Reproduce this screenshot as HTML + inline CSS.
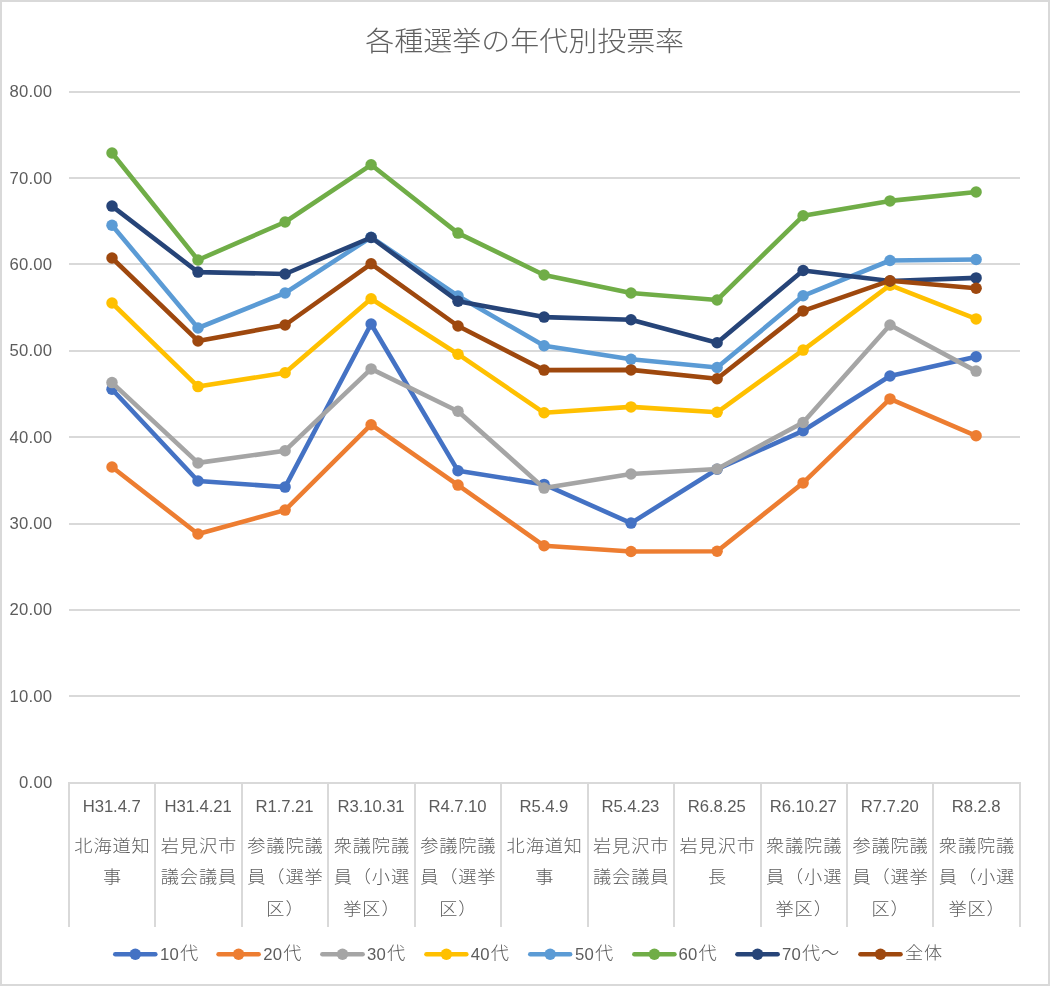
<!DOCTYPE html>
<html lang="ja">
<head>
<meta charset="utf-8">
<title>各種選挙の年代別投票率</title>
<style>
html,body{margin:0;padding:0;background:#fff;}
body{width:1050px;height:986px;overflow:hidden;}
svg{display:block;}
text{font-family:"Liberation Sans","Noto Sans CJK JP",sans-serif;fill:#5c5c5c;}
.t{fill:#606060;}
.l{font-size:16.7px;letter-spacing:0.22px;}
.d{font-size:16.7px;letter-spacing:-0.08px;}
.j{font-size:18.2px;font-weight:300;letter-spacing:0.87px;}
.t{font-size:29.0px;font-weight:300;}
</style>
</head>
<body>
<svg width="1050" height="986" viewBox="0 0 1050 986">
<rect x="0" y="0" width="1050" height="986" fill="#ffffff"/>
<rect x="1.0" y="1.0" width="1048" height="984" fill="none" stroke="#D9D9D9" stroke-width="2"/>
<text class="t" transform="translate(524.7 50.5) scale(1 0.94)" text-anchor="middle">各種選挙の年代別投票率</text>
<g fill="#D9D9D9" shape-rendering="crispEdges">
<rect x="68" y="782" width="953" height="2"/>
<rect x="69" y="695" width="951" height="2"/>
<rect x="69" y="609" width="951" height="2"/>
<rect x="69" y="523" width="951" height="2"/>
<rect x="69" y="436" width="951" height="2"/>
<rect x="69" y="350" width="951" height="2"/>
<rect x="69" y="263" width="951" height="2"/>
<rect x="69" y="177" width="951" height="2"/>
<rect x="69" y="91" width="951" height="2"/>
<rect x="68" y="782" width="2" height="145"/>
<rect x="154" y="782" width="2" height="145"/>
<rect x="241" y="782" width="2" height="145"/>
<rect x="327" y="782" width="2" height="145"/>
<rect x="414" y="782" width="2" height="145"/>
<rect x="500" y="782" width="2" height="145"/>
<rect x="587" y="782" width="2" height="145"/>
<rect x="673" y="782" width="2" height="145"/>
<rect x="760" y="782" width="2" height="145"/>
<rect x="846" y="782" width="2" height="145"/>
<rect x="932" y="782" width="2" height="145"/>
<rect x="1019" y="782" width="2" height="145"/>
</g>
<g class="l" text-anchor="end">
<text x="52.4" y="788.00">0.00</text>
<text x="52.4" y="702.00">10.00</text>
<text x="52.4" y="615.00">20.00</text>
<text x="52.4" y="529.00">30.00</text>
<text x="52.4" y="443.00">40.00</text>
<text x="52.4" y="356.00">50.00</text>
<text x="52.4" y="270.00">60.00</text>
<text x="52.4" y="184.00">70.00</text>
<text x="52.4" y="97.00">80.00</text>
</g>
<g text-anchor="middle">
<text class="d" x="111.67" y="812.0">H31.4.7</text>
<text class="j" transform="translate(112.49 851.60) scale(1 0.95)">北海道知</text>
<text class="j" transform="translate(112.49 882.80) scale(1 0.95)">事</text>
<text class="d" x="198.12" y="812.0">H31.4.21</text>
<text class="j" transform="translate(198.94 851.60) scale(1 0.95)">岩見沢市</text>
<text class="j" transform="translate(198.94 882.80) scale(1 0.95)">議会議員</text>
<text class="d" x="284.56" y="812.0">R1.7.21</text>
<text class="j" transform="translate(285.39 851.60) scale(1 0.95)">参議院議</text>
<text class="j" transform="translate(285.39 882.80) scale(1 0.95)">員（選挙</text>
<text class="j" transform="translate(285.39 914.90) scale(1 0.95)">区）</text>
<text class="d" x="371.01" y="812.0">R3.10.31</text>
<text class="j" transform="translate(371.84 851.60) scale(1 0.95)">衆議院議</text>
<text class="j" transform="translate(371.84 882.80) scale(1 0.95)">員（小選</text>
<text class="j" transform="translate(371.84 914.90) scale(1 0.95)">挙区）</text>
<text class="d" x="457.47" y="812.0">R4.7.10</text>
<text class="j" transform="translate(458.29 851.60) scale(1 0.95)">参議院議</text>
<text class="j" transform="translate(458.29 882.80) scale(1 0.95)">員（選挙</text>
<text class="j" transform="translate(458.29 914.90) scale(1 0.95)">区）</text>
<text class="d" x="543.92" y="812.0">R5.4.9</text>
<text class="j" transform="translate(544.74 851.60) scale(1 0.95)">北海道知</text>
<text class="j" transform="translate(544.74 882.80) scale(1 0.95)">事</text>
<text class="d" x="630.37" y="812.0">R5.4.23</text>
<text class="j" transform="translate(631.19 851.60) scale(1 0.95)">岩見沢市</text>
<text class="j" transform="translate(631.19 882.80) scale(1 0.95)">議会議員</text>
<text class="d" x="716.82" y="812.0">R6.8.25</text>
<text class="j" transform="translate(717.64 851.60) scale(1 0.95)">岩見沢市</text>
<text class="j" transform="translate(717.64 882.80) scale(1 0.95)">長</text>
<text class="d" x="803.27" y="812.0">R6.10.27</text>
<text class="j" transform="translate(804.09 851.60) scale(1 0.95)">衆議院議</text>
<text class="j" transform="translate(804.09 882.80) scale(1 0.95)">員（小選</text>
<text class="j" transform="translate(804.09 914.90) scale(1 0.95)">挙区）</text>
<text class="d" x="889.72" y="812.0">R7.7.20</text>
<text class="j" transform="translate(890.54 851.60) scale(1 0.95)">参議院議</text>
<text class="j" transform="translate(890.54 882.80) scale(1 0.95)">員（選挙</text>
<text class="j" transform="translate(890.54 914.90) scale(1 0.95)">区）</text>
<text class="d" x="976.17" y="812.0">R8.2.8</text>
<text class="j" transform="translate(976.99 851.60) scale(1 0.95)">衆議院議</text>
<text class="j" transform="translate(976.99 882.80) scale(1 0.95)">員（小選</text>
<text class="j" transform="translate(976.99 914.90) scale(1 0.95)">挙区）</text>
</g>
<g stroke="#4472C4" fill="#4472C4">
<polyline points="112.00,389.20 198.00,481.00 285.10,487.10 371.10,324.00 458.00,470.80 544.10,484.40 631.00,523.10 717.10,469.20 803.10,430.80 890.00,376.00 976.10,356.80" fill="none" stroke-width="4.6" stroke-linecap="round" stroke-linejoin="round"/>
<circle cx="112.00" cy="389.20" r="5.75" stroke="none"/>
<circle cx="198.00" cy="481.00" r="5.75" stroke="none"/>
<circle cx="285.10" cy="487.10" r="5.75" stroke="none"/>
<circle cx="371.10" cy="324.00" r="5.75" stroke="none"/>
<circle cx="458.00" cy="470.80" r="5.75" stroke="none"/>
<circle cx="544.10" cy="484.40" r="5.75" stroke="none"/>
<circle cx="631.00" cy="523.10" r="5.75" stroke="none"/>
<circle cx="717.10" cy="469.20" r="5.75" stroke="none"/>
<circle cx="803.10" cy="430.80" r="5.75" stroke="none"/>
<circle cx="890.00" cy="376.00" r="5.75" stroke="none"/>
<circle cx="976.10" cy="356.80" r="5.75" stroke="none"/>
</g>
<g stroke="#ED7D31" fill="#ED7D31">
<polyline points="112.00,467.00 198.00,534.00 285.10,510.10 371.10,424.70 458.00,485.10 544.10,545.80 631.00,551.50 717.10,551.20 803.10,482.90 890.00,398.90 976.10,435.80" fill="none" stroke-width="4.6" stroke-linecap="round" stroke-linejoin="round"/>
<circle cx="112.00" cy="467.00" r="5.75" stroke="none"/>
<circle cx="198.00" cy="534.00" r="5.75" stroke="none"/>
<circle cx="285.10" cy="510.10" r="5.75" stroke="none"/>
<circle cx="371.10" cy="424.70" r="5.75" stroke="none"/>
<circle cx="458.00" cy="485.10" r="5.75" stroke="none"/>
<circle cx="544.10" cy="545.80" r="5.75" stroke="none"/>
<circle cx="631.00" cy="551.50" r="5.75" stroke="none"/>
<circle cx="717.10" cy="551.20" r="5.75" stroke="none"/>
<circle cx="803.10" cy="482.90" r="5.75" stroke="none"/>
<circle cx="890.00" cy="398.90" r="5.75" stroke="none"/>
<circle cx="976.10" cy="435.80" r="5.75" stroke="none"/>
</g>
<g stroke="#A5A5A5" fill="#A5A5A5">
<polyline points="112.00,382.60 198.00,462.90 285.10,450.70 371.10,368.90 458.00,411.30 544.10,488.10 631.00,474.00 717.10,469.00 803.10,422.50 890.00,325.00 976.10,371.10" fill="none" stroke-width="4.6" stroke-linecap="round" stroke-linejoin="round"/>
<circle cx="112.00" cy="382.60" r="5.75" stroke="none"/>
<circle cx="198.00" cy="462.90" r="5.75" stroke="none"/>
<circle cx="285.10" cy="450.70" r="5.75" stroke="none"/>
<circle cx="371.10" cy="368.90" r="5.75" stroke="none"/>
<circle cx="458.00" cy="411.30" r="5.75" stroke="none"/>
<circle cx="544.10" cy="488.10" r="5.75" stroke="none"/>
<circle cx="631.00" cy="474.00" r="5.75" stroke="none"/>
<circle cx="717.10" cy="469.00" r="5.75" stroke="none"/>
<circle cx="803.10" cy="422.50" r="5.75" stroke="none"/>
<circle cx="890.00" cy="325.00" r="5.75" stroke="none"/>
<circle cx="976.10" cy="371.10" r="5.75" stroke="none"/>
</g>
<g stroke="#FFC000" fill="#FFC000">
<polyline points="112.00,303.00 198.00,386.60 285.10,372.80 371.10,298.70 458.00,354.20 544.10,412.80 631.00,406.90 717.10,412.30 803.10,350.10 890.00,285.20 976.10,318.90" fill="none" stroke-width="4.6" stroke-linecap="round" stroke-linejoin="round"/>
<circle cx="112.00" cy="303.00" r="5.75" stroke="none"/>
<circle cx="198.00" cy="386.60" r="5.75" stroke="none"/>
<circle cx="285.10" cy="372.80" r="5.75" stroke="none"/>
<circle cx="371.10" cy="298.70" r="5.75" stroke="none"/>
<circle cx="458.00" cy="354.20" r="5.75" stroke="none"/>
<circle cx="544.10" cy="412.80" r="5.75" stroke="none"/>
<circle cx="631.00" cy="406.90" r="5.75" stroke="none"/>
<circle cx="717.10" cy="412.30" r="5.75" stroke="none"/>
<circle cx="803.10" cy="350.10" r="5.75" stroke="none"/>
<circle cx="890.00" cy="285.20" r="5.75" stroke="none"/>
<circle cx="976.10" cy="318.90" r="5.75" stroke="none"/>
</g>
<g stroke="#5B9BD5" fill="#5B9BD5">
<polyline points="112.00,225.30 198.00,328.00 285.10,293.00 371.10,237.20 458.00,296.00 544.10,345.80 631.00,359.20 717.10,367.50 803.10,295.80 890.00,260.50 976.10,259.50" fill="none" stroke-width="4.6" stroke-linecap="round" stroke-linejoin="round"/>
<circle cx="112.00" cy="225.30" r="5.75" stroke="none"/>
<circle cx="198.00" cy="328.00" r="5.75" stroke="none"/>
<circle cx="285.10" cy="293.00" r="5.75" stroke="none"/>
<circle cx="371.10" cy="237.20" r="5.75" stroke="none"/>
<circle cx="458.00" cy="296.00" r="5.75" stroke="none"/>
<circle cx="544.10" cy="345.80" r="5.75" stroke="none"/>
<circle cx="631.00" cy="359.20" r="5.75" stroke="none"/>
<circle cx="717.10" cy="367.50" r="5.75" stroke="none"/>
<circle cx="803.10" cy="295.80" r="5.75" stroke="none"/>
<circle cx="890.00" cy="260.50" r="5.75" stroke="none"/>
<circle cx="976.10" cy="259.50" r="5.75" stroke="none"/>
</g>
<g stroke="#70AD47" fill="#70AD47">
<polyline points="112.00,153.00 198.00,260.00 285.10,222.00 371.10,164.80 458.00,233.10 544.10,275.00 631.00,293.00 717.10,300.00 803.10,215.80 890.00,200.90 976.10,192.00" fill="none" stroke-width="4.6" stroke-linecap="round" stroke-linejoin="round"/>
<circle cx="112.00" cy="153.00" r="5.75" stroke="none"/>
<circle cx="198.00" cy="260.00" r="5.75" stroke="none"/>
<circle cx="285.10" cy="222.00" r="5.75" stroke="none"/>
<circle cx="371.10" cy="164.80" r="5.75" stroke="none"/>
<circle cx="458.00" cy="233.10" r="5.75" stroke="none"/>
<circle cx="544.10" cy="275.00" r="5.75" stroke="none"/>
<circle cx="631.00" cy="293.00" r="5.75" stroke="none"/>
<circle cx="717.10" cy="300.00" r="5.75" stroke="none"/>
<circle cx="803.10" cy="215.80" r="5.75" stroke="none"/>
<circle cx="890.00" cy="200.90" r="5.75" stroke="none"/>
<circle cx="976.10" cy="192.00" r="5.75" stroke="none"/>
</g>
<g stroke="#264478" fill="#264478">
<polyline points="112.00,206.10 198.00,272.10 285.10,274.00 371.10,237.50 458.00,301.20 544.10,317.10 631.00,319.80 717.10,342.80 803.10,270.50 890.00,281.00 976.10,277.90" fill="none" stroke-width="4.6" stroke-linecap="round" stroke-linejoin="round"/>
<circle cx="112.00" cy="206.10" r="5.75" stroke="none"/>
<circle cx="198.00" cy="272.10" r="5.75" stroke="none"/>
<circle cx="285.10" cy="274.00" r="5.75" stroke="none"/>
<circle cx="371.10" cy="237.50" r="5.75" stroke="none"/>
<circle cx="458.00" cy="301.20" r="5.75" stroke="none"/>
<circle cx="544.10" cy="317.10" r="5.75" stroke="none"/>
<circle cx="631.00" cy="319.80" r="5.75" stroke="none"/>
<circle cx="717.10" cy="342.80" r="5.75" stroke="none"/>
<circle cx="803.10" cy="270.50" r="5.75" stroke="none"/>
<circle cx="890.00" cy="281.00" r="5.75" stroke="none"/>
<circle cx="976.10" cy="277.90" r="5.75" stroke="none"/>
</g>
<g stroke="#9E480E" fill="#9E480E">
<polyline points="112.00,258.00 198.00,340.90 285.10,325.00 371.10,263.80 458.00,326.00 544.10,370.10 631.00,369.90 717.10,378.70 803.10,310.90 890.00,280.70 976.10,288.20" fill="none" stroke-width="4.6" stroke-linecap="round" stroke-linejoin="round"/>
<circle cx="112.00" cy="258.00" r="5.75" stroke="none"/>
<circle cx="198.00" cy="340.90" r="5.75" stroke="none"/>
<circle cx="285.10" cy="325.00" r="5.75" stroke="none"/>
<circle cx="371.10" cy="263.80" r="5.75" stroke="none"/>
<circle cx="458.00" cy="326.00" r="5.75" stroke="none"/>
<circle cx="544.10" cy="370.10" r="5.75" stroke="none"/>
<circle cx="631.00" cy="369.90" r="5.75" stroke="none"/>
<circle cx="717.10" cy="378.70" r="5.75" stroke="none"/>
<circle cx="803.10" cy="310.90" r="5.75" stroke="none"/>
<circle cx="890.00" cy="280.70" r="5.75" stroke="none"/>
<circle cx="976.10" cy="288.20" r="5.75" stroke="none"/>
</g>
<line x1="115.30" y1="954.3" x2="155.30" y2="954.3" stroke="#4472C4" stroke-width="4.6" stroke-linecap="round"/>
<circle cx="135.30" cy="954.3" r="5.75" fill="#4472C4"/>
<text class="l" x="160.00" y="960.0">10</text>
<text class="j" transform="translate(179.90 959.0) scale(1 0.95)">代</text>
<line x1="218.60" y1="954.3" x2="258.60" y2="954.3" stroke="#ED7D31" stroke-width="4.6" stroke-linecap="round"/>
<circle cx="238.60" cy="954.3" r="5.75" fill="#ED7D31"/>
<text class="l" x="263.30" y="960.0">20</text>
<text class="j" transform="translate(283.20 959.0) scale(1 0.95)">代</text>
<line x1="322.40" y1="954.3" x2="362.60" y2="954.3" stroke="#A5A5A5" stroke-width="4.6" stroke-linecap="round"/>
<circle cx="342.50" cy="954.3" r="5.75" fill="#A5A5A5"/>
<text class="l" x="367.00" y="960.0">30</text>
<text class="j" transform="translate(386.90 959.0) scale(1 0.95)">代</text>
<line x1="426.50" y1="954.3" x2="466.30" y2="954.3" stroke="#FFC000" stroke-width="4.6" stroke-linecap="round"/>
<circle cx="446.40" cy="954.3" r="5.75" fill="#FFC000"/>
<text class="l" x="470.80" y="960.0">40</text>
<text class="j" transform="translate(490.70 959.0) scale(1 0.95)">代</text>
<line x1="530.30" y1="954.3" x2="570.10" y2="954.3" stroke="#5B9BD5" stroke-width="4.6" stroke-linecap="round"/>
<circle cx="550.20" cy="954.3" r="5.75" fill="#5B9BD5"/>
<text class="l" x="575.00" y="960.0">50</text>
<text class="j" transform="translate(594.90 959.0) scale(1 0.95)">代</text>
<line x1="634.40" y1="954.3" x2="674.40" y2="954.3" stroke="#70AD47" stroke-width="4.6" stroke-linecap="round"/>
<circle cx="654.40" cy="954.3" r="5.75" fill="#70AD47"/>
<text class="l" x="678.50" y="960.0">60</text>
<text class="j" transform="translate(698.40 959.0) scale(1 0.95)">代</text>
<line x1="737.50" y1="954.3" x2="777.60" y2="954.3" stroke="#264478" stroke-width="4.6" stroke-linecap="round"/>
<circle cx="757.55" cy="954.3" r="5.75" fill="#264478"/>
<text class="l" x="782.00" y="960.0">70</text>
<text class="j" transform="translate(801.90 959.0) scale(1 0.95)">代～</text>
<line x1="860.50" y1="954.3" x2="900.50" y2="954.3" stroke="#9E480E" stroke-width="4.6" stroke-linecap="round"/>
<circle cx="880.50" cy="954.3" r="5.75" fill="#9E480E"/>
<text class="j" transform="translate(905.00 959.0) scale(1 0.95)">全体</text>
</svg>
</body>
</html>
